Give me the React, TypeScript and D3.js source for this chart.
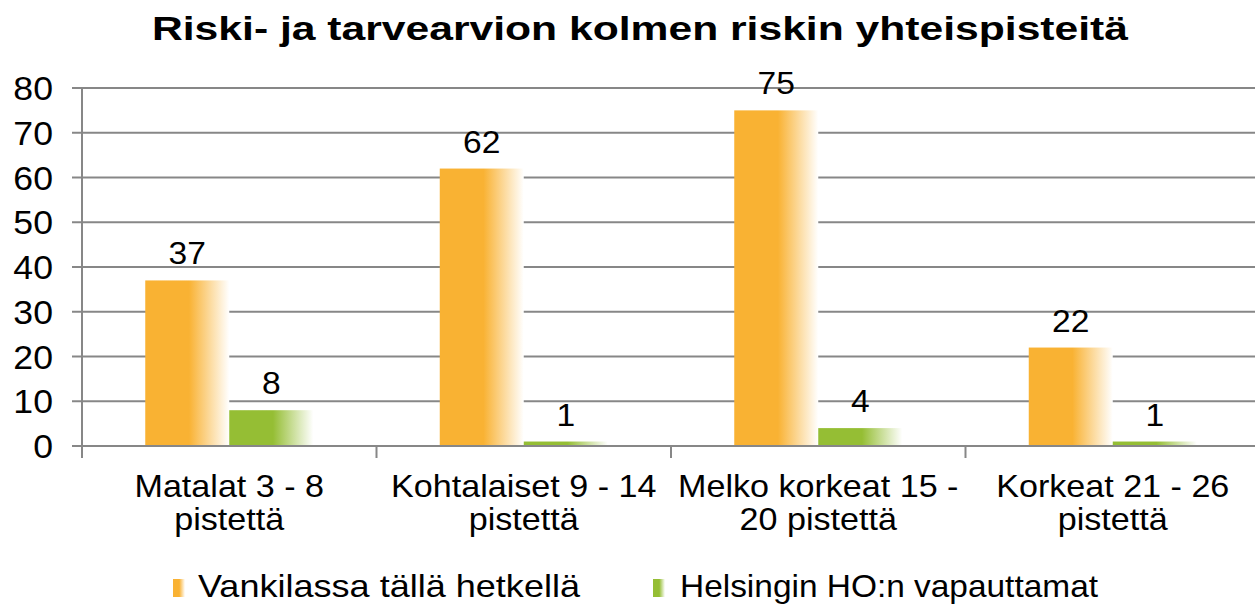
import React from "react";
import * as d3 from "d3";

const title = "Riski- ja tarvearvion kolmen riskin yhteispisteitä";
const categories = [
  ["Matalat 3 - 8", "pistettä"],
  ["Kohtalaiset 9 - 14", "pistettä"],
  ["Melko korkeat 15 -", "20 pistettä"],
  ["Korkeat 21 - 26", "pistettä"],
];
const seriesNames = ["Vankilassa tällä hetkellä", "Helsingin HO:n vapauttamat"];
const vankilassa = [37, 62, 75, 22];
const helsingin = [8, 1, 4, 1];
const yTicks = [0, 10, 20, 30, 40, 50, 60, 70, 80];
const colors = ["#F9B233", "#95BE34"];

const W = 1255;
const H = 604;
const FONT = "'Liberation Sans', Arial, Helvetica, sans-serif";

export default function App() {
  const left = 82;
  const catW = 294.5;
  const x = d3
    .scaleBand<number>()
    .domain(d3.range(categories.length))
    .range([left, left + catW * categories.length])
    .paddingInner(0)
    .paddingOuter(0);
  const xs = d3
    .scaleBand<number>()
    .domain([0, 1])
    .range([0, x.bandwidth()])
    .paddingInner(0)
    .paddingOuter(0.753);
  const y = d3.scaleLinear().domain([0, 80]).range([446, 88]);
  const series = [vankilassa, helsingin];
  const grid = "#878787";

  return (
    <svg
      width={W}
      height={H}
      style={{ position: "absolute", left: 0, top: 0, background: "#fff" }}
      fontFamily={FONT}
    >
      <defs>
        {colors.map((c, i) => (
          <linearGradient key={i} id={`g${i}`} x1="0" x2="1" y1="0" y2="0">
            <stop offset="0" stopColor={c} />
            <stop offset="0.52" stopColor={c} />
            <stop offset="1" stopColor="#ffffff" />
          </linearGradient>
        ))}
      </defs>
      <rect x={0} y={0} width={W} height={H} fill="#fff" />
      <text
        x={640}
        y={40}
        textAnchor="middle"
        fontSize={33}
        fontWeight="bold"
        textLength={976}
        lengthAdjust="spacingAndGlyphs"
      >
        {title}
      </text>

      {yTicks.map((t) => (
        <line key={t} x1={left} x2={W} y1={y(t)} y2={y(t)} stroke={grid} strokeWidth={2} />
      ))}
      {yTicks.map((t) => (
        <line key={"t" + t} x1={72} x2={left} y1={y(t)} y2={y(t)} stroke={grid} strokeWidth={2} />
      ))}
      <line x1={left} x2={left} y1={y(80)} y2={458} stroke={grid} strokeWidth={2} />
      {d3.range(1, categories.length + 1).map((i) => (
        <line
          key={"x" + i}
          x1={left + catW * i}
          x2={left + catW * i}
          y1={y(0)}
          y2={458}
          stroke={grid}
          strokeWidth={2}
        />
      ))}
      {yTicks.map((t) => (
        <text
          key={"l" + t}
          x={0}
          y={0}
          textAnchor="end"
          fontSize={33}
          transform={`translate(53,${y(t) + 12}) scale(1.08,1)`}
        >
          {t}
        </text>
      ))}

      {series.map((vals, si) =>
        vals.map((v, ci) => {
          const bx = (x(ci) as number) + (xs(si) as number);
          const bw = xs.bandwidth();
          return (
            <g key={`${si}-${ci}`}>
              <rect x={bx} y={y(v)} width={bw} height={y(0) - y(v)} fill={`url(#g${si})`} />
              <text
                x={0}
                y={0}
                textAnchor="middle"
                fontSize={32}
                transform={`translate(${bx + bw / 2},${y(v) - 16}) scale(1.05,1)`}
              >
                {v}
              </text>
            </g>
          );
        })
      )}
      <line x1={left} x2={W} y1={y(0)} y2={y(0)} stroke={grid} strokeWidth={2} />

      {categories.map((lines, ci) => {
        const cx = (x(ci) as number) + x.bandwidth() / 2;
        return lines.map((ln, li) => (
          <text
            key={`c${ci}-${li}`}
            x={0}
            y={0}
            textAnchor="middle"
            fontSize={31}
            transform={`translate(${cx},${497 + li * 33}) scale(1.1,1)`}
          >
            {ln}
          </text>
        ));
      })}

      {[
        { mx: 173, tx: 198, tw: 382 },
        { mx: 653, tx: 680, tw: 418 },
      ].map((L, i) => (
        <g key={"lg" + i}>
          <rect x={L.mx} y={579} width={12} height={18} fill={`url(#g${i})`} />
          <text
            x={L.tx}
            y={597}
            fontSize={32}
            textLength={L.tw}
            lengthAdjust="spacingAndGlyphs"
          >
            {seriesNames[i]}
          </text>
        </g>
      ))}
    </svg>
  );
}
